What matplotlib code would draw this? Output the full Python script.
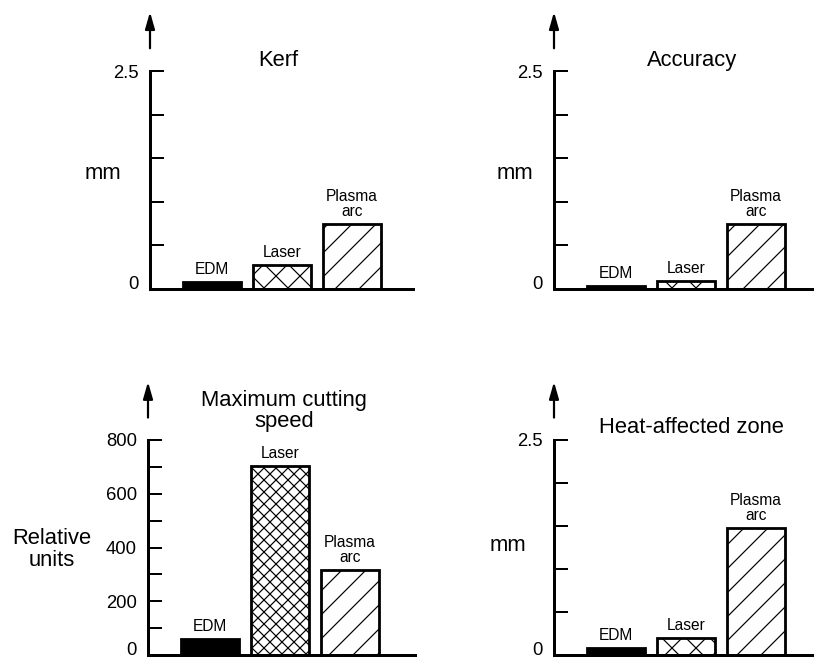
import matplotlib
matplotlib.use("Agg")
import matplotlib.pyplot as plt

plt.rcParams['font.family'] = ['Liberation Sans', 'DejaVu Sans']
plt.rcParams['hatch.linewidth'] = 1.2

# data
processes = ['EDM', 'Laser', 'Plasma\narc']
kerf = [0.08, 0.27, 0.75]
accuracy = [0.03, 0.09, 0.75]
cutting_speed = [60, 705, 317]
heat_zone = [0.08, 0.2, 1.48]

W, H = 814, 658
fig = plt.figure(figsize=(W / 72, H / 72), dpi=72)


def panel(left, base, top, right, values, ymax, major, minor, title, tpos,
          ylabel, lpos, hatches):
    ax = fig.add_axes([left / W, 1 - base / H, (right - left) / W, (base - top) / H])
    x = [1, 2, 3]
    bars = ax.bar(x, values, width=0.84, color=['black', 'white', 'white'],
                  edgecolor='black', linewidth=2.8)
    for b, h in zip(bars, hatches):
        if h:
            b.set_hatch(h)
    for xi, v, name in zip(x, values, processes):
        ax.annotate(name, (xi, v), xytext=(0, 5), textcoords='offset points',
                    ha='center', va='bottom', fontsize=15.5, linespacing=0.95)
    ax.set_xlim(0.115, 0.115 + (right - left) / 70)
    ax.set_ylim(0, ymax)
    ax.set_yticks(major)
    ax.set_yticks(minor, minor=True)
    ax.set_xticks([])
    for s in ['top', 'right']:
        ax.spines[s].set_visible(False)
    for s in ['left', 'bottom']:
        ax.spines[s].set_linewidth(3)
    ax.tick_params(axis='y', which='both', direction='in', length=14, width=2,
                   pad=11, labelsize=18.5)
    ax.set_yticklabels([f'{t:g}' for t in major])
    # the zero label sits on the baseline, as in the original
    ax.get_yticklabels()[0].set_verticalalignment('baseline')
    ax.text(tpos[0], tpos[1], title, transform=ax.transAxes, ha='center',
            va='center', fontsize=22, linespacing=1.05)
    ax.text(lpos[0], lpos[1], ylabel, transform=ax.transAxes, ha='center',
            va='center', fontsize=22, linespacing=1.05)
    ax.annotate('', xy=(0, 1.28), xytext=(0, 1.095), xycoords='axes fraction',
                arrowprops=dict(arrowstyle='-|>,head_length=1.4,head_width=0.4',
                                color='black', lw=2.2))
    return ax


mm_major = [0, 2.5]
mm_minor = [0.5, 1.0, 1.5, 2.0]

panel(150, 289, 71, 413, kerf, 2.5, mm_major, mm_minor, 'Kerf', (0.487, 1.05),
      'mm', (-0.179, 0.53), [None, 'x', '/'])
panel(554, 289, 71, 814, accuracy, 2.5, mm_major, mm_minor, 'Accuracy', (0.53, 1.05),
      'mm', (-0.15, 0.53), [None, 'x', '/'])
panel(148, 655, 440, 415, cutting_speed, 800, [0, 200, 400, 600, 800],
      [100, 300, 500, 700], 'Maximum cutting\nspeed', (0.51, 1.135),
      'Relative\nunits', (-0.36, 0.49), [None, 'xx', '/'])
panel(554, 655, 440, 814, heat_zone, 2.5, mm_major, mm_minor, 'Heat-affected zone',
      (0.53, 1.06), 'mm', (-0.177, 0.51), [None, 'x', '/'])

fig.savefig('out.png', dpi=72)
